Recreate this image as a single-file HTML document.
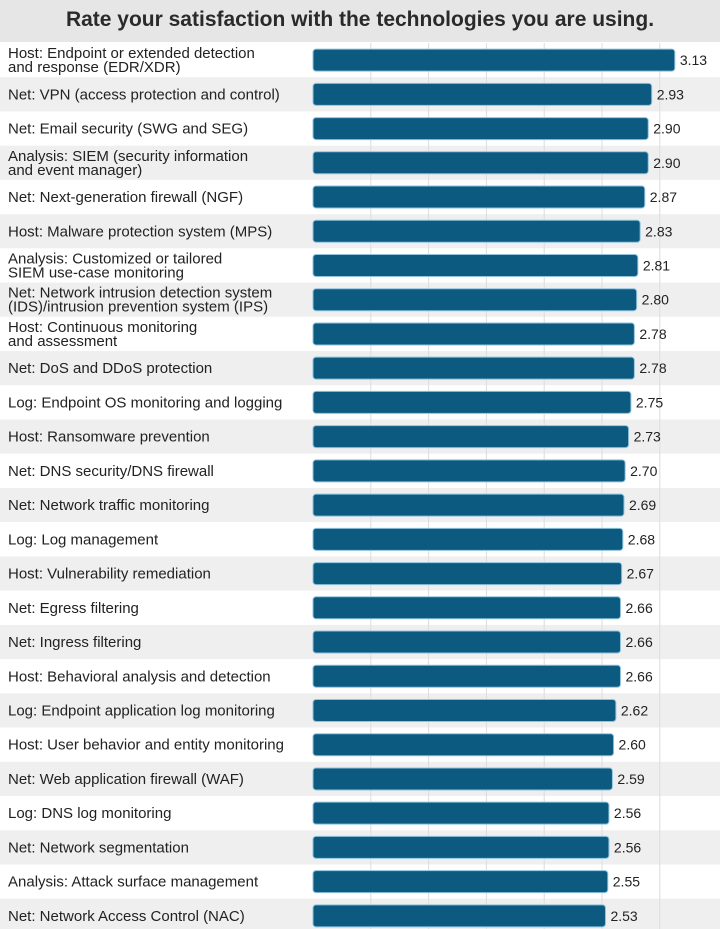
<!DOCTYPE html>
<html><head><meta charset="utf-8"><style>
body{margin:0;width:720px;height:929px;overflow:hidden;background:#fff;font-family:"Liberation Sans Narrow","Liberation Sans",sans-serif;}
#title{position:absolute;left:0;top:0;width:720px;height:42px;background:#e6e6e6;text-align:center;line-height:40px;font-size:21px;font-weight:bold;color:#2a2a2a;}
</style></head><body>
<div id="title">Rate your satisfaction with the technologies you are using.</div>
<svg id="chart" width="720" height="929" style="position:absolute;left:0;top:0"></svg>
<script>
const categories=["Host: Endpoint or extended detection|and response (EDR/XDR)","Net: VPN (access protection and control)","Net: Email security (SWG and SEG)","Analysis: SIEM (security information|and event manager)","Net: Next-generation firewall (NGF)","Host: Malware protection system (MPS)","Analysis: Customized or tailored|SIEM use-case monitoring","Net: Network intrusion detection system|(IDS)/intrusion prevention system (IPS)","Host: Continuous monitoring|and assessment","Net: DoS and DDoS protection","Log: Endpoint OS monitoring and logging","Host: Ransomware prevention","Net: DNS security/DNS firewall","Net: Network traffic monitoring","Log: Log management","Host: Vulnerability remediation","Net: Egress filtering","Net: Ingress filtering","Host: Behavioral analysis and detection","Log: Endpoint application log monitoring","Host: User behavior and entity monitoring","Net: Web application firewall (WAF)","Log: DNS log monitoring","Net: Network segmentation","Analysis: Attack surface management","Net: Network Access Control (NAC)"];
const values=[3.13,2.93,2.90,2.90,2.87,2.83,2.81,2.80,2.78,2.78,2.75,2.73,2.70,2.69,2.68,2.67,2.66,2.66,2.66,2.62,2.60,2.59,2.56,2.56,2.55,2.53];
const valueLabels=["3.13","2.93","2.90","2.90","2.87","2.83","2.81","2.80","2.78","2.78","2.75","2.73","2.70","2.69","2.68","2.67","2.66","2.66","2.66","2.62","2.60","2.59","2.56","2.56","2.55","2.53"];
const gridTicks=[0.5,1,1.5,2,2.5,3];
const svg=document.getElementById('chart');const NS='http://www.w3.org/2000/svg';
const x0=313,ppu=115.6,top0=43,rh=34.23,bh=22;
const xs=v=>x0+v*ppu;const ys=i=>top0+i*rh;
function mk(t,a){const e=document.createElementNS(NS,t);for(const k in a)e.setAttribute(k,a[k]);svg.appendChild(e);return e;}
categories.forEach((c,i)=>{const r=mk('rect',{x:0,y:ys(i),width:720,height:rh,fill:i%2?'#efefef':'#fff'});

});
gridTicks.forEach(t=>{const l=mk('line',{x1:xs(t),x2:xs(t),y1:top0,y2:929,stroke:'#dcdcdc','stroke-width':1});

});
categories.forEach((c,i)=>{const cy=ys(i)+rh/2;const lines=c.split('|');
const t=mk('text',{x:8,y:0,'font-size':15,fill:'#222'});


lines.forEach((ln,j)=>{const s=document.createElementNS(NS,'tspan');s.setAttribute('x',8);s.setAttribute('y',cy+5+(lines.length>1?(j?7:-7):0));s.textContent=ln;t.appendChild(s);});
const b=mk('rect',{x:x0,y:cy-bh/2,width:xs(values[i])-x0,height:bh,rx:3,fill:'#0d5a80',stroke:'#8fc3de','stroke-width':1});


const v=mk('text',{x:xs(values[i])+5,y:cy+5,'font-size':14,fill:'#222'});v.textContent=valueLabels[i];

});
</script>
</body></html>
